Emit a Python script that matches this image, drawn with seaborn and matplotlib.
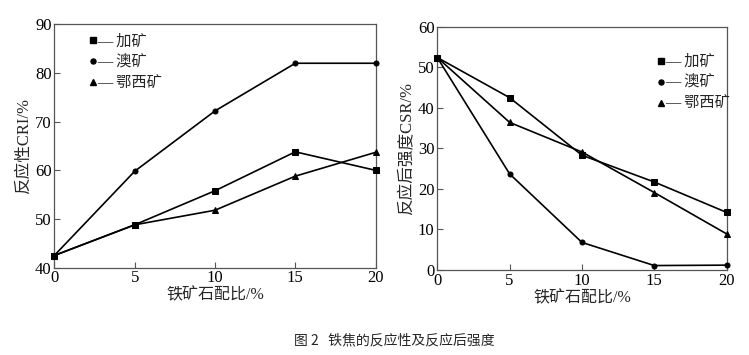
import matplotlib
matplotlib.use("Agg")
import matplotlib.pyplot as plt
from matplotlib.lines import Line2D
import pandas as pd
import seaborn as sns

# ratio of iron ore in blend (%)
ratio = [0, 5, 10, 15, 20]
ores = ["加矿", "澳矿", "鄂西矿"]

# reactivity CRI (%)
cri_jia = [42.5, 48.8, 55.8, 63.8, 60.0]
cri_ao = [42.5, 59.8, 72.2, 82.0, 82.0]
cri_exi = [42.5, 48.8, 51.8, 58.8, 63.7]

# strength after reaction CSR (%)
csr_jia = [52.4, 42.5, 28.3, 21.7, 14.2]
csr_ao = [52.4, 23.7, 6.8, 1.1, 1.2]
csr_exi = [52.4, 36.4, 29.1, 19.1, 8.9]

sns.set_style("ticks")
plt.rcParams['font.family'] = ['Liberation Serif', 'Noto Sans CJK SC']
plt.rcParams['xtick.direction'] = 'in'
plt.rcParams['ytick.direction'] = 'in'
plt.rcParams['xtick.major.size'] = 4
plt.rcParams['ytick.major.size'] = 4
plt.rcParams['axes.edgecolor'] = '#555555'
plt.rcParams['xtick.color'] = '#555555'
plt.rcParams['ytick.color'] = '#555555'
plt.rcParams['xtick.labelcolor'] = 'black'
plt.rcParams['ytick.labelcolor'] = 'black'

markers = {"加矿": ("s", 4.6), "澳矿": ("o", 3.6), "鄂西矿": ("^", 5.0)}

df_cri = pd.DataFrame({"ratio": ratio * 3,
                       "value": cri_jia + cri_ao + cri_exi,
                       "ore": [o for o in ores for _ in ratio]})
df_csr = pd.DataFrame({"ratio": ratio * 3,
                       "value": csr_jia + csr_ao + csr_exi,
                       "ore": [o for o in ores for _ in ratio]})

fig = plt.figure(figsize=(7.49, 3.55), dpi=100)
ax1 = fig.add_axes([0.0725, 0.246, 0.429, 0.6855])
ax2 = fig.add_axes([0.5838, 0.2394, 0.3864, 0.6854])


def draw(ax, df):
    for ore in ores:
        m, ms = markers[ore]
        sub = df[df["ore"] == ore]
        sns.lineplot(data=sub, x="ratio", y="value", ax=ax, color="black",
                     linewidth=1.2, marker=m, markersize=ms, markeredgecolor="black",
                     clip_on=False, zorder=3)
    ax.set_xlim(0, 20)
    ax.set_xticks([0, 5, 10, 15, 20])
    ax.tick_params(labelsize=12, top=False, right=False, width=0.8, pad=2)
    for s in ax.spines.values():
        s.set_linewidth(0.9)
    ax.set_xlabel("铁矿石配比/%", fontsize=11.5, labelpad=1)


draw(ax1, df_cri)
ax1.set_ylim(40, 90)
ax1.set_yticks([40, 50, 60, 70, 80, 90])
ax1.set_ylabel("反应性CRI/%", fontsize=12, labelpad=2)

draw(ax2, df_csr)
ax2.set_ylim(0, 60)
ax2.set_yticks([0, 10, 20, 30, 40, 50, 60])
ax2.set_ylabel("反应后强度CSR/%", fontsize=12, labelpad=2)


def add_legend(ax, x, y):
    handles = [Line2D([], [], ls="none", marker=markers[o][0], markersize=markers[o][1],
                      color="black") for o in ores]
    labels = ["— " + o for o in ores]
    ax.legend(handles, labels, loc="upper left", bbox_to_anchor=(x, y), frameon=False,
              fontsize=11, handlelength=0.5, handletextpad=0.0, labelspacing=0.45,
              borderaxespad=0, borderpad=0)


add_legend(ax1, 0.11, 0.96)
add_legend(ax2, 0.76, 0.885)

fig.text(0.527, 0.042, "图 2   铁焦的反应性及反应后强度", ha="center", va="center",
         fontsize=10, family=["Noto Sans CJK SC", "DejaVu Sans"])

fig.savefig("out.png", dpi=100, facecolor="white")
